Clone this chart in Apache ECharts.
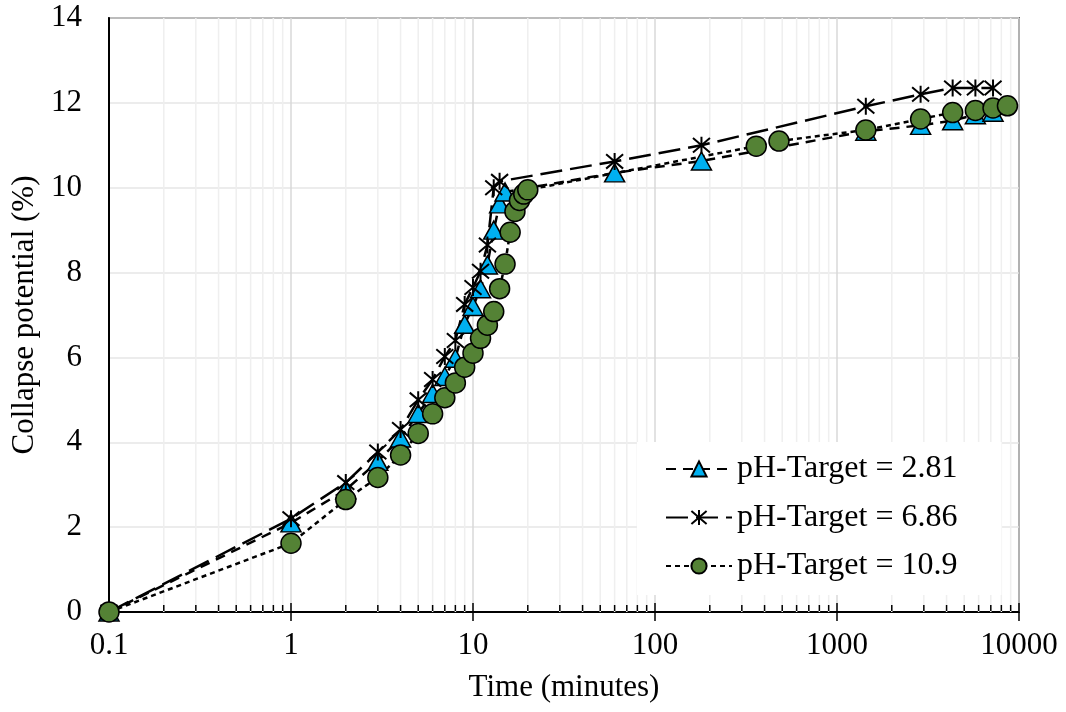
<!DOCTYPE html>
<html>
<head>
<meta charset="utf-8">
<script src="https://cdn.jsdelivr.net/npm/echarts@6/dist/echarts.min.js"></script>
<style>
  html, body { margin: 0; padding: 0; background: #fff; }
  #chart { width: 1066px; height: 712px; }
</style>
</head>
<body>
<div id="chart"></div>
<script>
// pH-Target = 2.81 (triangles)
var timeA = [0.1, 1, 2, 3, 4, 5, 6, 7, 8, 9, 10, 11, 12, 13, 14, 15, 60, 180, 1440, 2880, 4320, 5760, 7200];
var valA = [0, 2.1, 2.88, 3.55, 4.1, 4.68, 5.15, 5.55, 5.98, 6.78, 7.2, 7.62, 8.18, 9.0, 9.62, 9.9, 10.35, 10.63, 11.33, 11.47, 11.58, 11.72, 11.78];
// pH-Target = 6.86 (stars)
var timeB = [0.1, 1, 2, 3, 4, 5, 6, 7, 8, 9, 10, 11, 12, 13, 14, 60, 180, 1440, 2880, 4320, 5760, 7200];
var valB = [0, 2.2, 3.05, 3.77, 4.3, 5.0, 5.48, 6.02, 6.4, 7.25, 7.65, 8.03, 8.65, 10.0, 10.15, 10.62, 11.0, 11.92, 12.2, 12.35, 12.35, 12.35];
// pH-Target = 10.9 (circles)
var timeC = [0.1, 1, 2, 3, 4, 5, 6, 7, 8, 9, 10, 11, 12, 13, 14, 15, 16, 17, 18, 19, 20, 360, 480, 1440, 2880, 4320, 5760, 7200, 8640];
var valC = [0, 1.62, 2.65, 3.17, 3.7, 4.21, 4.67, 5.05, 5.4, 5.77, 6.1, 6.45, 6.76, 7.08, 7.62, 8.2, 8.95, 9.44, 9.7, 9.85, 9.95, 10.98, 11.1, 11.36, 11.62, 11.77, 11.82, 11.88, 11.93];

var names = ["pH-Target = 2.81", "pH-Target = 6.86", "pH-Target = 10.9"];
var xTicks = [0.1, 1, 10, 100, 1000, 10000];
var yMin = 0, yMax = 14, yStep = 2;

var font = "'Liberation Serif', 'Times New Roman', serif";
var fs = 31;

// minor tick values between decades (2..9 x decade)
var minorTicks = [];
for (var d = 0; d < xTicks.length - 1; d++) {
  for (var k = 2; k <= 9; k++) {
    minorTicks.push([+(xTicks[d] * k).toPrecision(6), 0]);
  }
}
var majorTicks = xTicks.map(function (v) { return [v, 1]; });

function pairs(ts, vs) {
  return ts.map(function (t, i) { return [t, vs[i]]; });
}

var starPath = "path://M0,-1L0,1M-0.85,-0.85L0.85,0.85M-0.85,0.85L0.85,-0.85";

var chart = echarts.init(document.getElementById("chart"));
var option = {
  animation: false,
  textStyle: { fontFamily: font, color: "#000" },
  grid: {
    left: 109, right: 47, top: 18, bottom: 100,
    show: true, borderColor: "#000", borderWidth: 1.5,
    containLabel: false
  },
  legend: {
    orient: "vertical",
    left: 637, top: 442,
    padding: [10, 44, 12, 28],
    itemWidth: 66, itemHeight: 19, itemGap: 14.5,
    backgroundColor: "#fff",
    data: names,
    textStyle: { fontFamily: font, fontSize: 32, color: "#000", lineHeight: 34 }
  },
  xAxis: {
    type: "log", logBase: 10, min: 0.1, max: 10000,
    name: "Time (minutes)", nameLocation: "middle", nameGap: 60,
    nameTextStyle: { fontFamily: font, fontSize: fs, color: "#000" },
    axisLine: { lineStyle: { color: "#000", width: 2 } },
    axisTick: { show: true, inside: false, length: 9, lineStyle: { color: "#000", width: 1.5 } },
    axisLabel: {
      margin: 18, fontFamily: font, fontSize: fs, color: "#000",
      formatter: function (v) { return String(+v.toPrecision(6)); }
    },
    splitLine: { show: true, lineStyle: { color: "#d9d9d9", width: 1.5 } }
  },
  yAxis: {
    type: "value", min: yMin, max: yMax, interval: yStep,
    name: "Collapse potential (%)", nameLocation: "middle", nameGap: 64,
    nameTextStyle: { fontFamily: font, fontSize: fs, color: "#000" },
    axisLine: { show: true, lineStyle: { color: "#000", width: 2 } },
    axisTick: { show: false },
    axisLabel: { margin: 27, fontFamily: font, fontSize: fs, color: "#000" },
    splitLine: { show: true, lineStyle: { color: "#e6e6e6", width: 1.5 } }
  },
  series: [
    {
      // minor gridlines and inner ticks on the log axis
      type: "custom",
      name: "ticks",
      silent: true,
      clip: false,
      data: minorTicks.concat(majorTicks),
      renderItem: function (params, api) {
        var v = api.value(0);
        var major = api.value(1) === 1;
        var p0 = api.coord([v, yMin]);
        var p1 = api.coord([v, yMax]);
        var children = [{
          type: "line",
          shape: { x1: p0[0], y1: p0[1] - 1, x2: p0[0], y2: p0[1] - (major ? 9 : 7) },
          style: { stroke: "#000", lineWidth: 1.5 }
        }];
        if (!major) {
          children.unshift({
            type: "line",
            shape: { x1: p0[0], y1: p0[1], x2: p1[0], y2: p1[1] },
            style: { stroke: "#efefef", lineWidth: 1.5 }
          });
        }
        return { type: "group", children: children };
      }
    },
    {
      name: names[0], type: "line", clip: false,
      data: pairs(timeA, valA),
      symbol: "triangle", symbolSize: [20, 18],
      itemStyle: { color: "#00b0f0", borderColor: "#000", borderWidth: 1.5 },
      lineStyle: { color: "#000", width: 2.5, type: [10, 7] }
    },
    {
      name: names[1], type: "line", clip: false,
      data: pairs(timeB, valB),
      symbol: starPath, symbolSize: [17, 17],
      itemStyle: { color: "#000", borderColor: "#000", borderWidth: 2 },
      lineStyle: { color: "#000", width: 2.5, type: [22, 8] }
    },
    {
      name: names[2], type: "line", clip: false,
      data: pairs(timeC, valC),
      symbol: "circle", symbolSize: 20,
      itemStyle: { color: "#548235", borderColor: "#000", borderWidth: 1.5 },
      lineStyle: { color: "#000", width: 2.5, type: [5, 4] }
    }
  ]
};
chart.setOption(option);
</script>
</body>
</html>
